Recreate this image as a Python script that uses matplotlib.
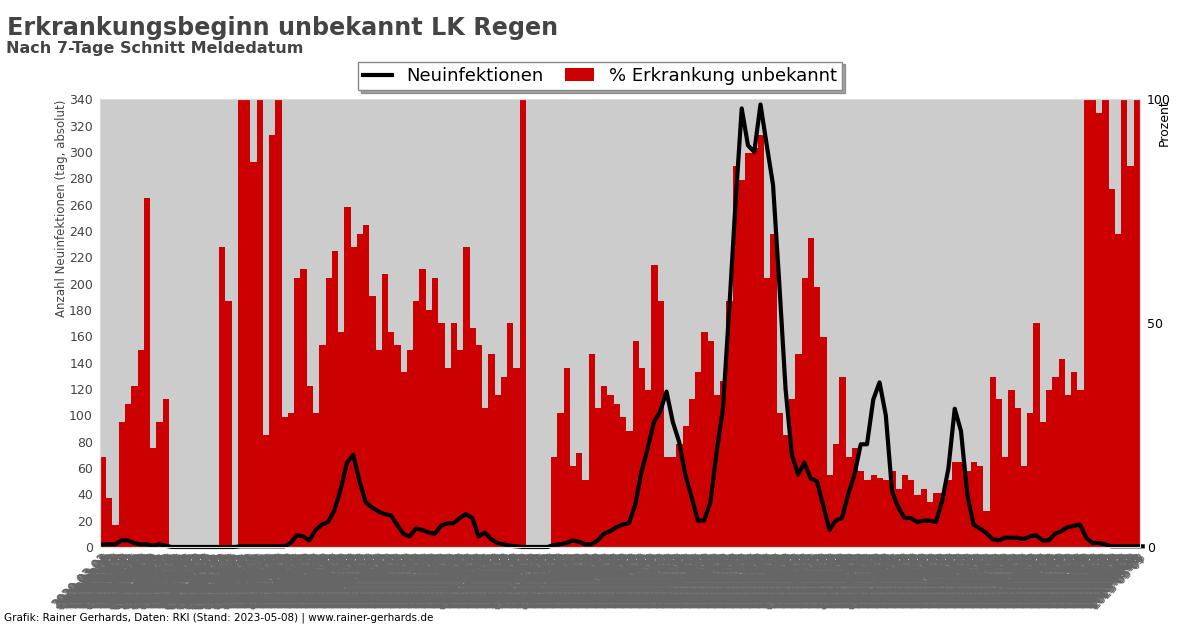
import matplotlib
matplotlib.use("Agg")
from matplotlib import pyplot as plt
import pandas as pd

# weekly values, starting 2020-03-01
start = "2020-03-01"
end = "2023-05-07"

pct_unknown = [
    20, 11, 5, 28, 32, 36, 44, 78, 22, 28,
    33, 0, 0, 0, 0, 0, 0, 0, 0, 67,
    55, 0, 100, 100, 86, 100, 25, 92, 100, 29,
    30, 60, 62, 36, 30, 45, 60, 66, 48, 76,
    67, 70, 72, 56, 44, 61, 48, 45, 39, 44,
    55, 62, 53, 60, 50, 40, 50, 44, 67, 49,
    45, 31, 43, 34, 38, 50, 40, 100, 0, 0,
    0, 0, 20, 30, 40, 18, 21, 15, 43, 31,
    36, 34, 32, 29, 26, 46, 40, 35, 63, 55,
    20, 20, 23, 27, 33, 39, 48, 46, 34, 37,
    55, 85, 82, 88, 89, 92, 60, 70, 30, 25,
    33, 43, 60, 69, 58, 47, 16, 23, 38, 20,
    22, 17, 15, 16, 15.5, 15, 17, 13, 16, 15,
    11.5, 13, 10, 12, 12, 15, 19, 19, 17, 19,
    18, 8, 38, 33, 20, 35, 31, 18, 30, 50,
    28, 35, 38, 42, 34, 39, 35, 100, 100, 97,
    100, 80, 70, 100, 85, 100, 95,
]

new_cases = [
    2, 2, 2, 5, 5, 3, 2, 2, 1, 2,
    1, 0, 0, 0, 0, 0, 0, 0, 0, 0,
    0, 0, 0.5, 0.5, 0.5, 0.5, 0.5, 0.5, 0.5, 0.5,
    3, 9, 8, 5, 13, 17, 19, 28, 44, 64,
    70, 50, 34, 30, 27, 25, 24, 17, 10, 8,
    14, 13, 11, 10, 16, 18, 18, 22, 25, 22,
    8, 11, 6, 3, 2, 1, 0.5, 0, 0, 0,
    0, 0, 1.5, 2, 3, 5, 4, 2, 2, 5,
    10, 12, 15, 17, 18, 32, 57, 75, 95, 103,
    118, 95, 80, 55, 38, 20, 20, 34, 72, 105,
    180, 260, 333, 305, 300, 336, 305, 275, 200, 120,
    70, 55, 64, 52, 50, 32, 13, 20, 22, 40,
    55, 78, 78, 112, 125, 100, 42, 30, 22, 22,
    19, 20, 20, 19, 35, 60, 105, 88, 40, 17,
    14, 11, 6, 5, 7, 7, 7, 6, 8, 9,
    5, 5, 10, 12, 15, 16, 17, 7, 3, 3,
    2, 0.5, 0.5, 0.5, 0.5, 0.5, 0.5,
]

weeks = pd.date_range(start, periods=len(pct_unknown), freq="7D")
days = pd.date_range(start, end, freq="D")
day_labels = [d.strftime("%Y-%m-%d") for d in days]

fig = plt.figure(figsize=(12, 6.28), dpi=100)
ax = fig.add_axes([0.0833, 0.129, 0.8667, 0.713])
ax2 = ax.twinx()

# bars (percent) behind, line (absolute) in front
ax.set_zorder(ax2.get_zorder() + 1)
ax.patch.set_visible(False)
ax2.patch.set_visible(True)
ax2.patch.set_facecolor("#cccccc")

bars = ax2.bar(weeks, pct_unknown, width=7, align="edge", color="#cc0000",
               linewidth=0, label="% Erkrankung unbekannt")
line, = ax.plot(weeks + pd.Timedelta(days=3), new_cases, color="black", lw=3,
                clip_on=False, label="Neuinfektionen")

ax.set_ylim(0, 340)
ax.set_yticks(range(0, 341, 20))
ax2.set_ylim(0, 100)
ax2.set_yticks([0, 50, 100])
ax.set_xlim(days[0], days[-1])

ax.set_xticks(days)
ax.set_xticklabels(day_labels, rotation=45, ha="right", rotation_mode="anchor",
                   fontsize=9, color="#666666")
ax.tick_params(axis="x", length=0, pad=3)
ax.tick_params(axis="y", length=0, labelsize=9, labelcolor="#444444", pad=5)
ax2.tick_params(axis="y", length=0, labelsize=9, labelcolor="black", pad=5)

for a in (ax, ax2):
    for s in a.spines.values():
        s.set_color("#dddddd")

ax.set_ylabel("Anzahl Neuinfektionen (tag, absolut)", loc="top", fontsize=8.5,
              color="#444444")
ax.yaxis.set_label_coords(-0.031, 1.0)
ax2.set_ylabel("Prozent", loc="top", fontsize=9, color="black")
ax2.yaxis.set_label_coords(1.017, 1.0)

fig.text(0.006, 0.975, "Erkrankungsbeginn unbekannt LK Regen", fontsize=17.2,
         fontweight="bold", color="#444444", va="top")
fig.text(0.005, 0.935, "Nach 7-Tage Schnitt Meldedatum", fontsize=11.5,
         fontweight="bold", color="#444444", va="top")
fig.text(0.003, 0.012, "Grafik: Rainer Gerhards, Daten: RKI (Stand: 2023-05-08) | www.rainer-gerhards.de",
         fontsize=7.5, color="black")

fig.legend(handles=[line, bars], loc="center", bbox_to_anchor=(0.5, 0.879),
           ncol=2, fontsize=13, shadow=True, fancybox=False, edgecolor="#888888",
           framealpha=1, borderpad=0.3, handlelength=1.6, columnspacing=1.2)

plt.savefig("out.png")
